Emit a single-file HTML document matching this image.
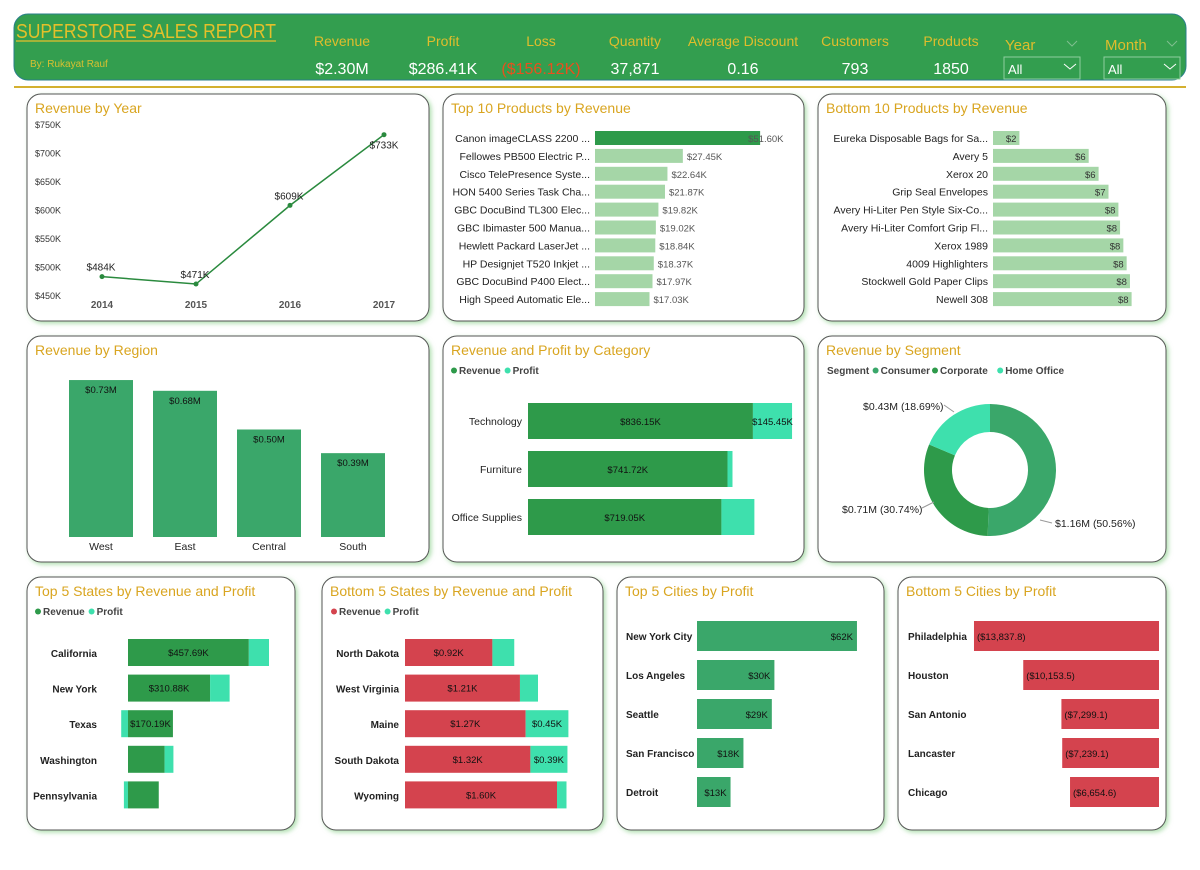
<!DOCTYPE html>
<html><head><meta charset="utf-8">
<style>
body{margin:0;background:#fff;width:1200px;height:865px;overflow:hidden;font-family:"Liberation Sans",sans-serif}
svg text{font-family:"Liberation Sans",sans-serif}
</style></head>
<body>
<svg id="s" width="1200" height="865" xmlns="http://www.w3.org/2000/svg">
<defs><filter id="gl" x="-10%" y="-10%" width="120%" height="120%"><feDropShadow dx="2" dy="2" stdDeviation="2.5" flood-color="#8fd18f" flood-opacity="0.7"/></filter></defs>
<g>
<rect x="14" y="14" width="1172" height="66" rx="14" fill="#339e4f" stroke="#2a7f8a" stroke-width="1"/>
<text x="16" y="38" font-size="20" fill="#e4c02a" textLength="260" lengthAdjust="spacingAndGlyphs">SUPERSTORE SALES REPORT</text>
<line x1="16" y1="41" x2="276" y2="41" stroke="#e4c02a" stroke-width="1.2"/>
<text x="30" y="67" font-size="10" fill="#d8c030">By: Rukayat Rauf</text>
</g>
<line x1="14" y1="87" x2="1186" y2="87" stroke="#d4b030" stroke-width="2"/>
</svg>
<script>
const NS="http://www.w3.org/2000/svg";
const S=document.getElementById('s');
function el(tag,attrs,parent,text){const e=document.createElementNS(NS,tag);for(const k in attrs)e.setAttribute(k,attrs[k]);if(text!==undefined)e.textContent=text;(parent||S).appendChild(e);return e;}

// KPI data
const kpiLabels=["Revenue","Profit","Loss","Quantity","Average Discount","Customers","Products"];
const kpiValues=["$2.30M","$286.41K","($156.12K)","37,871","0.16","793","1850"];
const kpiX=[342,443,541,635,743,855,951];
kpiLabels.forEach((l,i)=>{
  const g=el('g',{});
  
  
  el('text',{x:kpiX[i],y:46,'font-size':14,fill:'#e0bd2c','text-anchor':'middle'},g,l);
  el('text',{x:kpiX[i],y:74,'font-size':16,fill:i==2?'#e8501e':'#fff','text-anchor':'middle'},g,kpiValues[i]);
});
[["Year",1004],["Month",1104]].forEach(([n,x])=>{
  const g=el('g',{});
  
  
  el('text',{x:x+1,y:50,'font-size':15,fill:'#e0bd2c'},g,n);
  el('path',{d:`M${x+63} 41 l5 5 l5 -5`,stroke:'#7fbf8f',fill:'none'},g);
  el('rect',{x:x,y:57,width:76,height:22,fill:'#339e4f',stroke:'#8fcf9f'},g);
  el('text',{x:x+4,y:74,'font-size':13,fill:'#fff'},g,'All');
  el('path',{d:`M${x+60} 64 l6 5 l6 -5`,stroke:'#fff',fill:'none'},g);
});

// panels
const panels=[
 ["revenue-by-year",27,94,402,227,"Revenue by Year"],
 ["top-10-products",443,94,361,227,"Top 10 Products by Revenue"],
 ["bottom-10-products",818,94,348,227,"Bottom 10 Products by Revenue"],
 ["revenue-by-region",27,336,402,226,"Revenue by Region"],
 ["revenue-profit-by-category",443,336,361,226,"Revenue and Profit by Category"],
 ["revenue-by-segment",818,336,348,226,"Revenue by Segment"],
 ["top-5-states",27,577,268,253,"Top 5 States by Revenue and Profit"],
 ["bottom-5-states",322,577,281,253,"Bottom 5 States by Revenue and Profit"],
 ["top-5-cities",617,577,267,253,"Top 5 Cities by Profit"],
 ["bottom-5-cities",898,577,268,253,"Bottom 5 Cities by Profit"]];
panels.forEach(p=>{
  const g=el('g',{});
  
  
  el('rect',{x:p[1],y:p[2],width:p[3],height:p[4],rx:14,fill:'#fff',stroke:'#555','stroke-width':1,filter:'url(#gl)'},g);
  el('text',{x:p[1]+8,y:p[2]+19,'font-size':14,fill:'#d9a520'},g,p[5]);
});
const DG='#2e9a4a',MG='#3aa76a',TQ='#3ee0ad',RD='#d4434e';

// Chart 1: revenue by year
const years=["2014","2015","2016","2017"];
const yearRevenue=[484,471,609,733];
const yTicks=[450,500,550,600,650,700,750];
const yx=i=>102+i*94, yy=v=>296-(v-450)*171/300;
yTicks.forEach(t=>{const e=el('text',{x:35,y:yy(t)+3,'font-size':9,fill:'#333'},S,'$'+t+'K');});
years.forEach((y,i)=>{const e=el('text',{x:yx(i),y:308,'font-size':10,'font-weight':'bold',fill:'#555','text-anchor':'middle'},S,y);});
const ln=el('polyline',{points:yearRevenue.map((v,i)=>yx(i)+','+yy(v)).join(' '),fill:'none',stroke:'#2a8a3e','stroke-width':1.5});

yearRevenue.forEach((v,i)=>{
  const c=el('circle',{cx:yx(i),cy:yy(v),r:2.5,fill:'#2a8a3e'});
  
  const t=el('text',{x:yx(i)+(i==3?0:-1),y:yy(v)+(i==3?14:-6),'font-size':10,fill:'#222','text-anchor':'middle'},S,'$'+v+'K');
  
});

// Chart 2: top 10 products
const topProducts=["Canon imageCLASS 2200 ...","Fellowes PB500 Electric P...","Cisco TelePresence Syste...","HON 5400 Series Task Cha...","GBC DocuBind TL300 Elec...","GBC Ibimaster 500 Manua...","Hewlett Packard LaserJet ...","HP Designjet T520 Inkjet ...","GBC DocuBind P400 Elect...","High Speed Automatic Ele..."];
const topProductRev=[51.60,27.45,22.64,21.87,19.82,19.02,18.84,18.37,17.97,17.03];
const tpx=v=>v*3.2, tpy=i=>131+i*17.9;
topProducts.forEach((n,i)=>{
  el('text',{x:590,y:tpy(i)+11,'font-size':10.5,fill:'#222','text-anchor':'end'},S,n);
  const b=el('rect',{x:595,y:tpy(i),width:tpx(topProductRev[i]),height:14,fill:i==0?DG:'#a5d6a7'});
  
  el('text',{x:595+tpx(topProductRev[i])+(i==0?-12:4),y:tpy(i)+11,'font-size':9.5,fill:'#555'},S,'$'+topProductRev[i].toFixed(2)+'K');
});

// Chart 3: bottom 10 products
const botProducts=["Eureka Disposable Bags for Sa...","Avery 5","Xerox 20","Grip Seal Envelopes","Avery Hi-Liter Pen Style Six-Co...","Avery Hi-Liter Comfort Grip Fl...","Xerox 1989","4009 Highlighters","Stockwell Gold Paper Clips","Newell 308"];
const botProductRev=[1.6,5.8,6.4,7.0,7.6,7.7,7.9,8.1,8.3,8.4];
const bpx=v=>v*16.5;
botProducts.forEach((n,i)=>{
  el('text',{x:988,y:tpy(i)+11,'font-size':10.5,fill:'#222','text-anchor':'end'},S,n);
  const b=el('rect',{x:993,y:tpy(i),width:bpx(botProductRev[i]),height:14,fill:'#a5d6a7'});
  
  el('text',{x:993+bpx(botProductRev[i])-3,y:tpy(i)+11,'font-size':9.5,fill:'#333','text-anchor':'end'},S,'$'+Math.round(botProductRev[i]));
});

// Chart 4: region
const regions=["West","East","Central","South"];
const regionRev=[0.73,0.68,0.50,0.39];
const rx=i=>69+i*84, rh=v=>v*215;
regions.forEach((r,i)=>{
  const b=el('rect',{x:rx(i),y:537-rh(regionRev[i]),width:64,height:rh(regionRev[i]),fill:MG});
  
  el('text',{x:rx(i)+32,y:537-rh(regionRev[i])+13,'font-size':9.5,fill:'#111','text-anchor':'middle'},S,'$'+regionRev[i].toFixed(2)+'M');
  el('text',{x:rx(i)+32,y:550,'font-size':10.5,fill:'#222','text-anchor':'middle'},S,r);
});

// Chart 5: category
const categories=["Technology","Furniture","Office Supplies"];
const catRevenue=[836.15,741.72,719.05];
const catProfit=[145.45,18.45,122.49];
const cx5=v=>v*0.269, cy5=i=>403+i*48;
function legend(x,y,items){let cx=x;items.forEach(([t,c])=>{if(c){el('circle',{cx:cx+3,cy:y-3.5,r:3,fill:c});cx+=8;}el('text',{x:cx,y:y,'font-size':10,'font-weight':'bold',fill:'#444'},S,t);cx+=t.length*5.8+5;});}
legend(451,374,[["Revenue",DG],["Profit",TQ]]);
categories.forEach((c,i)=>{
  el('text',{x:522,y:cy5(i)+22,'font-size':10.5,fill:'#222','text-anchor':'end'},S,c);
  const b=el('rect',{x:528,y:cy5(i),width:cx5(catRevenue[i]),height:36,fill:DG});
  
  const p=el('rect',{x:528+cx5(catRevenue[i]),y:cy5(i),width:cx5(catProfit[i]),height:36,fill:TQ});
  
  el('text',{x:528+cx5(catRevenue[i])/2,y:cy5(i)+22,'font-size':9.5,fill:'#111','text-anchor':'middle'},S,'$'+catRevenue[i].toFixed(2)+'K');
  if(i==0)el('text',{x:528+cx5(catRevenue[i])+cx5(catProfit[i])/2,y:cy5(i)+22,'font-size':9.5,fill:'#111','text-anchor':'middle'},S,'$'+catProfit[i].toFixed(2)+'K');
});

// Chart 6: segment donut
const segments=["Consumer","Corporate","Home Office"];
const segmentValues=[1.16,0.71,0.43];
const segmentPct=[50.56,30.74,18.69];
const segColors=[MG,DG,TQ];
legend(827,374,[["Segment",null],["Consumer",segColors[0]],["Corporate",segColors[1]],["Home Office",segColors[2]]]);
const dcx=990,dcy=470,R=66,r0=38;let a0=0;const tot=segmentPct.reduce((a,b)=>a+b,0);
segmentPct.forEach((v,i)=>{
  const a1=a0+v/tot*2*Math.PI;
  const pt=(a,rr)=>[dcx+rr*Math.sin(a),dcy-rr*Math.cos(a)];
  const [x1,y1]=pt(a0,R),[x2,y2]=pt(a1,R),[x3,y3]=pt(a1,r0),[x4,y4]=pt(a0,r0);const lg=(a1-a0)>Math.PI?1:0;
  const s=el('path',{d:`M${x1} ${y1}A${R} ${R} 0 ${lg} 1 ${x2} ${y2}L${x3} ${y3}A${r0} ${r0} 0 ${lg} 0 ${x4} ${y4}Z`,fill:segColors[i]});
  
  a0=a1;
});
el('text',{x:1055,y:527,'font-size':10.5,fill:'#222'},S,'$'+segmentValues[0].toFixed(2)+'M ('+segmentPct[0]+'%)');
el('text',{x:842,y:513,'font-size':10.5,fill:'#222'},S,'$'+segmentValues[1].toFixed(2)+'M ('+segmentPct[1]+'%)');
el('text',{x:863,y:410,'font-size':10.5,fill:'#222'},S,'$'+segmentValues[2].toFixed(2)+'M ('+segmentPct[2]+'%)');
el('path',{d:'M1040 520 L1052 523',stroke:'#999',fill:'none'});
el('path',{d:'M922 508 L934 502',stroke:'#999',fill:'none'});
el('path',{d:'M944 405 L954 412',stroke:'#999',fill:'none'});

// Chart 7: top 5 states
const topStates=["California","New York","Texas","Washington","Pennsylvania"];
const topStateRev=[457.69,310.88,170.19,138.64,116.51];
const topStateProfit=[76.38,74.04,-25.73,33.40,-15.56];
const sx=v=>v*0.264, sy=i=>639+i*35.6;
legend(35,615,[["Revenue",DG],["Profit",TQ]]);
function stacked(names,rev,prof,x0,xs,rc,lblX,revLbl,profLbl){
  names.forEach((n,i)=>{
    el('text',{x:lblX,y:sy(i)+18,'font-size':10,'font-weight':'bold',fill:'#222','text-anchor':'end'},S,n);
    const b=el('rect',{x:x0,y:sy(i),width:xs(rev[i]),height:27,fill:rc});
    
    const pw=xs(Math.abs(prof[i]));
    const p=el('rect',{x:prof[i]>=0?x0+xs(rev[i]):x0-pw,y:sy(i),width:pw,height:27,fill:TQ});
    
    if(revLbl[i])el('text',{x:x0+xs(rev[i])/2,y:sy(i)+17,'font-size':9.5,fill:'#111','text-anchor':'middle'},S,revLbl[i]);
    if(profLbl&&profLbl[i])el('text',{x:x0+xs(rev[i])+pw/2,y:sy(i)+17,'font-size':9.5,fill:'#111','text-anchor':'middle'},S,profLbl[i]);
  });
}
stacked(topStates,topStateRev,topStateProfit,128,sx,DG,97,topStateRev.map((v,i)=>i<3?'$'+v.toFixed(2)+'K':''));

// Chart 8: bottom 5 states
const botStates=["North Dakota","West Virginia","Maine","South Dakota","Wyoming"];
const botStateRev=[0.92,1.21,1.27,1.32,1.60];
const botStateProfit=[0.23,0.19,0.45,0.39,0.10];
legend(331,615,[["Revenue",RD],["Profit",TQ]]);
stacked(botStates,botStateRev,botStateProfit,405,v=>v*95,RD,399,botStateRev.map(v=>'$'+v.toFixed(2)+'K'),botStateProfit.map(v=>v>0.3?'$'+v.toFixed(2)+'K':''));

// Chart 9: top 5 cities
const topCities=["New York City","Los Angeles","Seattle","San Francisco","Detroit"];
const topCityProfit=[62,30,29,18,13];
const ccx=v=>v*2.58, ccy=i=>621+i*39;
topCities.forEach((c,i)=>{
  el('text',{x:626,y:ccy(i)+19,'font-size':10,'font-weight':'bold',fill:'#222'},S,c);
  const b=el('rect',{x:697,y:ccy(i),width:ccx(topCityProfit[i]),height:30,fill:MG});
  
  el('text',{x:697+ccx(topCityProfit[i])-4,y:ccy(i)+19,'font-size':9.5,fill:'#111','text-anchor':'end'},S,'$'+topCityProfit[i]+'K');
});

// Chart 10: bottom 5 cities
const botCities=["Philadelphia","Houston","San Antonio","Lancaster","Chicago"];
const botCityLoss=[13837.8,10153.5,7299.1,7239.1,6654.6];
const bcx=v=>v*0.01337;
botCities.forEach((c,i)=>{
  el('text',{x:908,y:ccy(i)+19,'font-size':10,'font-weight':'bold',fill:'#222'},S,c);
  const w=bcx(botCityLoss[i]);
  const b=el('rect',{x:1159-w,y:ccy(i),width:w,height:30,fill:RD});
  
  el('text',{x:1159-w+3,y:ccy(i)+19,'font-size':9.5,fill:'#111'},S,'($'+botCityLoss[i].toLocaleString('en-US',{minimumFractionDigits:1})+')');
});
</script>
</body></html>
